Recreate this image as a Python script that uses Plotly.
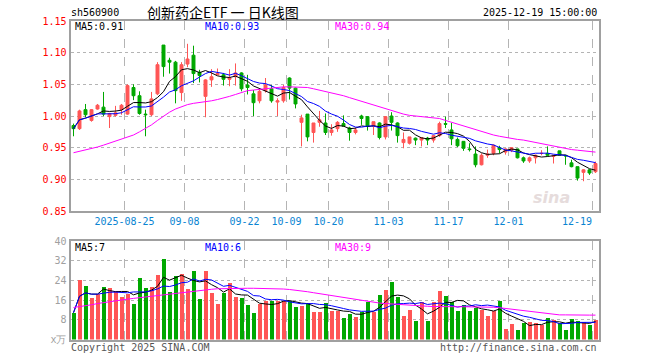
import plotly.graph_objects as go
import pandas as pd

# ---------------- data ----------------
dates_tick_labels = ["2025-08-25", "09-08", "09-22", "10-09", "10-20", "11-03", "11-17", "12-01", "12-19"]
tick_day_index = [9, 19, 29, 36, 43, 53, 63, 73, 87]

open_ = [0.985, 0.980, 1.010, 0.993, 1.011, 1.014, 0.999, 1.001, 1.010, 1.003,
         1.045, 1.032, 1.003, 1.002, 1.035, 1.112, 1.088, 1.085, 1.037, 1.082,
         1.096, 1.069, 1.031, 1.057, 1.065, 1.065, 1.058, 1.062, 1.068, 1.049,
         1.035, 1.024, 1.040, 1.043, 1.022, 1.024, 1.060, 1.044, 0.990, 1.003,
         0.974, 0.990, 0.989, 0.974, 0.980, 0.988, 0.981, 0.974, 1.000, 0.999,
         0.984, 0.989, 0.967, 1.000, 0.989, 0.958, 0.957, 0.965, 0.962, 0.965,
         0.962, 0.969, 0.988, 0.978, 0.963, 0.960, 0.948, 0.940, 0.923, 0.938,
         0.941, 0.950, 0.943, 0.946, 0.948, 0.934, 0.929, 0.934, 0.941, 0.941,
         0.936, 0.945, 0.938, 0.926, 0.920, 0.911, 0.915, 0.912]
high = [0.988, 1.010, 1.019, 1.011, 1.019, 1.038, 1.005, 1.016, 1.019, 1.050,
        1.050, 1.039, 1.010, 1.038, 1.085, 1.112, 1.092, 1.087, 1.085, 1.114,
        1.111, 1.073, 1.058, 1.074, 1.075, 1.068, 1.074, 1.083, 1.069, 1.065,
        1.041, 1.042, 1.060, 1.049, 1.028, 1.049, 1.061, 1.045, 1.002, 1.003,
        0.989, 1.008, 1.004, 0.987, 0.992, 1.001, 0.983, 0.982, 1.002, 1.000,
        0.991, 0.990, 1.000, 1.006, 0.990, 0.974, 0.967, 0.966, 0.966, 0.967,
        0.969, 0.991, 0.999, 0.989, 0.966, 0.960, 0.957, 0.952, 0.941, 0.947,
        0.955, 0.953, 0.949, 0.950, 0.948, 0.936, 0.936, 0.939, 0.946, 0.952,
        0.938, 0.945, 0.938, 0.931, 0.920, 0.916, 0.916, 0.928]
low = [0.968, 0.978, 0.998, 0.991, 1.010, 1.000, 0.981, 0.999, 1.002, 1.002,
       1.025, 1.002, 0.968, 1.000, 1.033, 1.062, 1.067, 1.020, 1.024, 1.077,
       1.052, 1.053, 0.998, 1.046, 1.065, 1.048, 1.047, 1.048, 1.039, 1.034,
       1.000, 1.020, 1.037, 1.021, 1.000, 1.021, 1.026, 1.012, 0.952, 0.960,
       0.958, 0.983, 0.970, 0.969, 0.975, 0.984, 0.961, 0.971, 0.986, 0.977,
       0.970, 0.963, 0.963, 0.977, 0.958, 0.949, 0.955, 0.954, 0.952, 0.954,
       0.958, 0.967, 0.981, 0.954, 0.951, 0.945, 0.944, 0.919, 0.922, 0.934,
       0.938, 0.941, 0.939, 0.943, 0.933, 0.926, 0.926, 0.925, 0.938, 0.936,
       0.925, 0.937, 0.923, 0.919, 0.898, 0.897, 0.907, 0.910]
close = [0.980, 1.008, 1.002, 1.010, 1.017, 1.003, 1.004, 1.005, 1.017, 1.048,
         1.032, 1.004, 1.002, 1.027, 1.081, 1.078, 1.085, 1.040, 1.081, 1.090,
         1.067, 1.064, 1.057, 1.062, 1.067, 1.058, 1.060, 1.068, 1.043, 1.045,
         1.021, 1.039, 1.049, 1.024, 1.024, 1.045, 1.044, 1.019, 0.997, 0.967,
         0.989, 0.994, 0.974, 0.978, 0.990, 0.984, 0.974, 0.978, 0.996, 0.984,
         0.991, 0.966, 0.999, 0.990, 0.969, 0.963, 0.967, 0.962, 0.966, 0.962,
         0.969, 0.988, 0.987, 0.964, 0.953, 0.949, 0.947, 0.923, 0.938, 0.940,
         0.954, 0.947, 0.948, 0.950, 0.934, 0.929, 0.934, 0.938, 0.941, 0.938,
         0.938, 0.938, 0.937, 0.920, 0.902, 0.915, 0.910, 0.925]
volume = [10.9, 24.2, 21.7, 16.9, 18.4, 21.2, 21.1, 19.5, 17.3, 18.4,
          14.4, 25.0, 20.9, 21.5, 26.2, 32.7, 19.2, 25.8, 26.5, 20.5,
          27.8, 16.4, 27.8, 18.9, 14.3, 18.9, 23.0, 17.3, 17.0, 14.0,
          10.8, 14.6, 15.8, 15.8, 15.8, 15.8, 15.8, 13.0, 13.5, 14.8,
          11.0, 11.0, 14.8, 11.6, 11.6, 8.7, 10.3, 9.3, 11.3, 15.2,
          11.3, 18.1, 20.1, 23.4, 17.3, 9.7, 12.0, 7.5, 15.4, 7.5,
          15.2, 19.7, 17.7, 15.2, 11.6, 14.2, 11.6, 12.9, 12.0, 9.7,
          11.6, 15.7, 4.3, 6.3, 3.9, 6.7, 7.0, 6.7, 5.9, 8.7,
          7.8, 6.8, 3.9, 8.3, 7.6, 7.0, 5.9, 7.8]
ma30_price = [0.942, 0.944, 0.946, 0.948, 0.951, 0.954, 0.957, 0.960, 0.963, 0.966,
              0.970, 0.975, 0.980, 0.986, 0.993, 1.000, 1.006, 1.011, 1.015, 1.018,
              1.020, 1.021, 1.023, 1.024, 1.026, 1.028, 1.031, 1.034, 1.037, 1.040,
              1.041, 1.042, 1.044, 1.045, 1.045, 1.046, 1.046, 1.046, 1.046, 1.045,
              1.043, 1.041, 1.039, 1.037, 1.034, 1.032, 1.029, 1.026, 1.023, 1.020,
              1.017, 1.014, 1.011, 1.008, 1.005, 1.003, 1.001, 1.000, 0.999, 0.999,
              0.998, 0.996, 0.993, 0.990, 0.987, 0.984, 0.981, 0.978, 0.975, 0.972,
              0.970, 0.968, 0.966, 0.965, 0.963, 0.962, 0.960, 0.958, 0.956, 0.954,
              0.952, 0.950, 0.949, 0.947, 0.946, 0.945, 0.944, 0.943]
ma30_volume = [13.0, 13.3, 13.7, 14.1, 14.6, 15.0, 15.4, 15.8, 16.1, 16.4,
               16.7, 17.0, 17.3, 17.6, 17.9, 18.2, 18.5, 18.8, 19.2, 19.5,
               19.8, 20.0, 20.2, 20.4, 20.6, 20.7, 20.8, 20.8, 20.8, 20.8,
               20.8, 20.8, 20.8, 20.8, 20.7, 20.5, 20.3, 20.1, 19.8, 19.4,
               19.0, 18.6, 18.2, 17.8, 17.4, 17.0, 16.6, 16.2, 15.8, 15.4,
               15.1, 14.8, 14.6, 14.4, 14.2, 14.0, 13.8, 13.7, 13.6, 13.5,
               13.4, 13.3, 13.3, 13.3, 13.3, 13.3, 13.3, 13.3, 13.3, 13.2,
               13.1, 12.9, 12.6, 12.2, 11.8, 11.5, 11.2, 10.9, 10.6, 10.4,
               10.2, 10.0, 10.0, 9.9, 9.9, 9.9, 9.9, 9.9]
price_ticks = [0.85, 0.90, 0.95, 1.00, 1.05, 1.10, 1.15]
volume_ticks = [0, 8, 16, 24, 32, 40]
volume_tick_text = ["x万", "8", "16", "24", "32", "40"]

# ---------------- derived ----------------
n = len(close)
x = list(range(n))
ma5 = pd.Series(close).rolling(5, min_periods=1).mean()
ma10 = pd.Series(close).rolling(10, min_periods=1).mean()
vma5 = pd.Series(volume).rolling(5, min_periods=1).mean()
vma10 = pd.Series(volume).rolling(10, min_periods=1).mean()

RED = "#ff5555"
GREEN = "#00a800"
GRID = "#b4b4b4"
BORDER = "#a0a0a0"
MONO = "DejaVu Sans Mono, Liberation Mono, monospace"
FS = 10

vol_colors = [RED if c >= o else GREEN for o, c in zip(open_, close)]

W, H = 660, 360
def px(X):
    return X / W
def py(Y):
    return 1 - Y / H

fig = go.Figure()
fig.add_trace(go.Candlestick(
    x=x, open=open_, high=high, low=low, close=close,
    increasing=dict(line=dict(color=RED, width=1), fillcolor=RED),
    decreasing=dict(line=dict(color=GREEN, width=1), fillcolor=GREEN),
    whiskerwidth=0, xaxis="x", yaxis="y", showlegend=False, hoverinfo="skip"))
fig.add_trace(go.Scatter(x=x, y=ma5, mode="lines", line=dict(color="#000000", width=1), xaxis="x", yaxis="y"))
fig.add_trace(go.Scatter(x=x, y=ma10, mode="lines", line=dict(color="#0000ff", width=1), xaxis="x", yaxis="y"))
fig.add_trace(go.Scatter(x=x, y=ma30_price, mode="lines", line=dict(color="#ff00ff", width=1), xaxis="x", yaxis="y"))

fig.add_trace(go.Bar(x=x, y=volume, marker=dict(color=vol_colors, line=dict(width=0)),
                     width=0.83, xaxis="x2", yaxis="y2"))
fig.add_trace(go.Scatter(x=x, y=vma5, mode="lines", line=dict(color="#000000", width=1), xaxis="x2", yaxis="y2"))
fig.add_trace(go.Scatter(x=x, y=vma10, mode="lines", line=dict(color="#0000ff", width=1), xaxis="x2", yaxis="y2"))
fig.add_trace(go.Scatter(x=x, y=ma30_volume, mode="lines", line=dict(color="#ff00ff", width=1), xaxis="x2", yaxis="y2"))

grid_x = [i - 0.5 for i in tick_day_index]
shown_ticks = dates_tick_labels[:-1] + [""]

common_x = dict(range=[-0.5, n - 0.5], domain=[px(70.5), px(598.5)], showgrid=True, gridcolor=GRID,
                griddash="dash", gridwidth=1, zeroline=False, showline=True, mirror=True,
                linecolor=BORDER, linewidth=2, ticks="", tickvals=grid_x, automargin=False)

fig.update_layout(
    width=W, height=H, autosize=False,
    margin=dict(l=0, r=0, t=0, b=0, pad=0),
    paper_bgcolor="white", plot_bgcolor="white",
    showlegend=False, bargap=0, hovermode=False,
    xaxis=dict(**common_x, anchor="y", ticktext=shown_ticks,
               tickfont=dict(family=MONO, size=FS, color="#0a84d2")),
    yaxis=dict(domain=[py(211), py(21)], range=[0.85, 1.15], tickvals=price_ticks,
               ticktext=[f"{v:.2f}" for v in price_ticks], showgrid=True, gridcolor=GRID,
               griddash="dot", zeroline=False, showline=True, mirror=True, linecolor=BORDER,
               linewidth=2, ticks="", automargin=False,
               tickfont=dict(family=MONO, size=FS, color="#ff0000")),
    xaxis2=dict(**common_x, anchor="y2", showticklabels=False),
    yaxis2=dict(domain=[py(339.5), py(241)], range=[0, 40], tickvals=volume_ticks,
                ticktext=volume_tick_text, showgrid=True, gridcolor=GRID, griddash="dot",
                zeroline=False, showline=True, mirror=True, linecolor=BORDER, linewidth=2,
                ticks="", automargin=False,
                tickfont=dict(family=MONO, size=FS, color="#a0a0a0")),
)
fig.update_xaxes(rangeslider_visible=False)

def txt(X, Y, s, color="#000000", size=FS, anchor="left", family=MONO):
    fig.add_annotation(x=px(X), y=py(Y), xref="paper", yref="paper", text=s,
                       showarrow=False, xanchor=anchor, yanchor="middle", borderpad=0,
                       font=dict(family=family, size=size, color=color))

txt(70, 13, "sh560900")
txt(223, 12, "创新药企ETF 一 日K线图", size=14, anchor="center",
    family="Noto Sans CJK SC, sans-serif")
txt(598, 13, "2025-12-19 15:00:00", anchor="right")
txt(74, 27, "MA5:0.91")
txt(204, 27, "MA10:0.93", color="#0000ff")
txt(334, 27, "MA30:0.94", color="#ff00ff")
txt(74, 247, "MA5:7")
txt(204, 247, "MA10:6", color="#0000ff")
txt(334, 247, "MA30:9", color="#ff00ff")
txt(577, 221, dates_tick_labels[-1], color="#0a84d2", anchor="center")
txt(70, 347, "Copyright 2025 SINA.COM", color="#555555")
txt(598, 347, "http://finance.sina.com.cn", color="#555555", anchor="right")
fig.add_annotation(x=px(572), y=py(197), xref="paper", yref="paper", text="<b><i>sina</i></b>",
                   showarrow=False, font=dict(family="DejaVu Sans, sans-serif", size=16, color="#e6dcdc"))

# remove the default 8px page margin so the 660x360 figure fills the window exactly
fig.write_html("out.html", config={"displayModeBar": False},
               post_script="document.body.style.margin='0px';")
